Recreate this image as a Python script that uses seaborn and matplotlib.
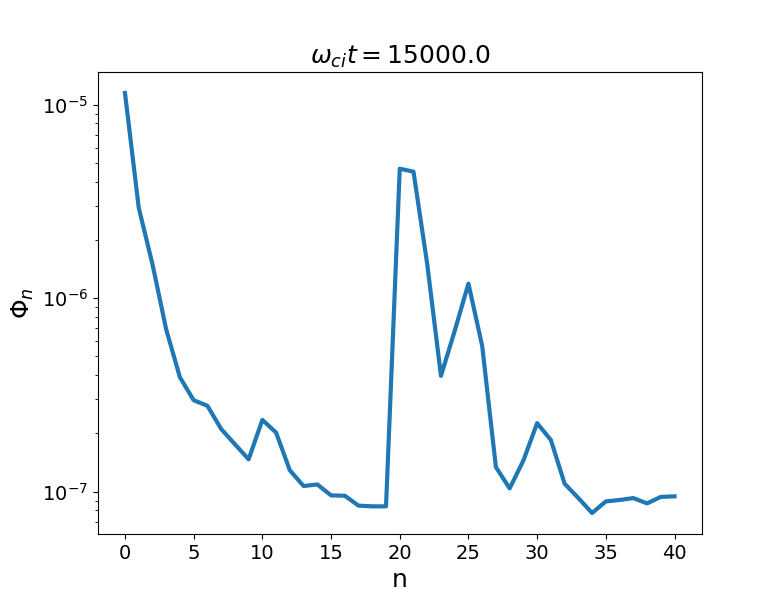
import numpy as np
import pandas as pd
import matplotlib
matplotlib.use("Agg")
import matplotlib.pyplot as plt
import seaborn as sns

# mode number and amplitude
n_modes = list(range(41))
phi_n = [
    1.15e-5, 2.94e-6, 1.5e-6, 6.9e-7, 3.9e-7, 2.97e-7, 2.78e-7, 2.11e-7, 1.76e-7, 1.47e-7,
    2.35e-7, 2.02e-7, 1.29e-7, 1.07e-7, 1.09e-7, 9.57e-8, 9.53e-8, 8.47e-8, 8.4e-8, 8.4e-8,
    4.67e-6, 4.51e-6, 1.5e-6, 3.97e-7, 6.78e-7, 1.19e-6, 5.67e-7, 1.34e-7, 1.04e-7, 1.45e-7,
    2.26e-7, 1.85e-7, 1.10e-7, 9.27e-8, 7.76e-8, 8.91e-8, 9.06e-8, 9.27e-8, 8.7e-8, 9.4e-8,
    9.46e-8,
]
time_label = r"$\omega_{ci}t = 15000.0$"

df = pd.DataFrame({"n": n_modes, "phi": phi_n})

fig, ax = plt.subplots(figsize=(7.8, 6), dpi=100)
sns.lineplot(data=df, x="n", y="phi", ax=ax, color="#1f77b4", linewidth=3)
ax.set_yscale("log")
ax.set_xticks(np.arange(0, 41, 5))
ax.tick_params(labelsize=14)
ax.set_xlabel("n", fontsize=18)
ax.set_ylabel(r"$\Phi_n$", fontsize=18)
ax.set_title(time_label, fontsize=18)

fig.savefig("out.png", dpi=100)
